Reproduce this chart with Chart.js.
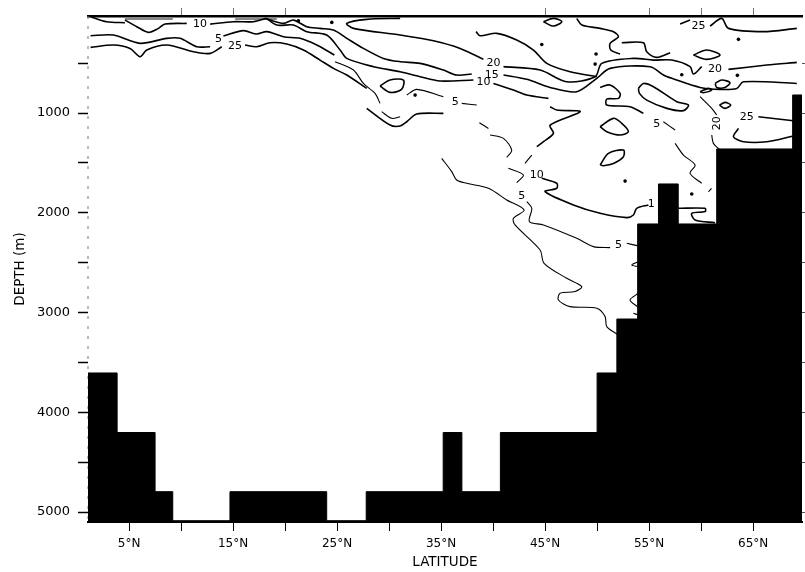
<!DOCTYPE html>
<html>
<head>
<meta charset="utf-8">
<style>
  html, body { margin: 0; padding: 0; background: #fff; }
  canvas { display: block; }
</style>
<script src="https://cdn.jsdelivr.net/npm/chart.js@4"></script>
</head>
<body>
<canvas id="chart" width="805" height="572"></canvas>
<script>
const latMin = 1.05;
const latMax = 69.7;
const depthMin = 27;
const depthMax = 5100;

const bottomTicks = [5, 10, 15, 20, 25, 30, 35, 40, 45, 50, 55, 60, 65];
const bottomTickLabels = { 5: "5°N", 15: "15°N", 25: "25°N", 35: "35°N", 45: "45°N", 55: "55°N", 65: "65°N" };
const depthTicks = [500, 1000, 1500, 2000, 2500, 3000, 3500, 4000, 4500, 5000];
const depthTickLabels = { 1000: "1000", 2000: "2000", 3000: "3000", 4000: "4000", 5000: "5000" };
const topTickLats = [10, 15, 20, 45, 55, 60, 65];

// sea floor steps: left edge of each cell and its depth
const floorLat = [1.05, 3.85, 7.5, 9.2, 14.7, 24, 27.8, 35.2, 37, 40.7, 50, 51.9, 53.9, 55.9, 57.8, 61.5, 68.8, 69.7];
const floorDepth = [3606, 4203, 4796, 5087, 4796, 5087, 4796, 4203, 4796, 4203, 3606, 3065, 2112, 1711, 2112, 1360, 819, 819];

// contours as [latitude, depth]
const surfA = [[1.3,34],[2.85,84],[4.6,94]];
const surfB = [[4.6,68],[5.74,134],[6.86,191],[7.82,151],[8.46,108],[10.54,101]];
const surfC = [[12.8,108],[15.03,84],[16.95,84],[18.2,51]];
const upperA = [[18.2,51],[18.56,68],[19.84,101],[20.8,68],[22.08,134],[23.36,151],[24.65,168],[25.93,251],[27.53,352],[29.45,452],[31.06,485],[32.98,502],[35.22,569],[36.5,619],[37.95,609]];
const upperB = [[18.2,51],[19.2,118],[20.8,118],[22.08,184],[24,218],[25.29,368],[25.93,452],[28.49,535],[31.06,586],[32.98,636],[34.9,679],[38.11,669]];
const fiveA = [[1.3,225],[3.49,218],[6.06,301],[8.62,251],[9.9,251],[11.5,335],[12.79,335]];
const fiveB = [[14.07,228],[16,174],[17.27,208],[18.24,184],[19.84,235],[21.44,251],[23.04,318],[24.74,418]];
const fiveC = [[24.8,485],[26.57,569],[27.53,703],[28.65,803],[29.13,903]];
const lowA = [[1.3,342],[3.49,318],[5.09,352],[6.06,435],[6.7,368],[8.62,318],[11.18,385],[12.79,402],[13.91,335]];
const lowB = [[16.15,318],[17.27,335],[18.56,295],[20.16,308],[21.76,368],[23.36,469],[24.65,552],[25.93,619],[27.85,753]];
const lowC = [[27.85,953],[30.09,1120],[31.06,1130],[31.7,1087],[32.66,1010],[35.22,1003]];
const lowD = [[29.29,986],[30.25,1053],[31.06,1037]];
const midA = [[31.7,819],[32.66,763],[35.22,836]];
const midB = [[36.99,903],[38.43,920]];
const twentyTop = [[31.06,51],[27.85,61],[25.93,101],[26.57,151],[31.06,218],[34.26,275],[36.83,352],[39.07,462]];
const twentyA = [[41,535],[44.52,569],[47.08,686],[49.81,636],[50.45,502],[53.49,452],[55.42,469],[57.18,469],[58.94,535],[59.26,609],[60.06,535]];
const twentyB = [[62.63,562],[66.31,519],[69.2,492]];
const twentyC = [[38.36,184],[38.75,225],[40.35,201],[42.27,268],[43.88,368],[45.16,502],[47.4,586],[49.97,636]];
const fifteenA = [[41,619],[43.24,662],[45.48,743],[48.04,786],[49.97,652],[51.25,552],[55.1,535],[56.38,619],[57.18,652],[59.9,743],[61.82,763],[63.43,753],[64.07,686],[69.2,703]];
const tenA = [[40.03,703],[41.95,769],[43.24,819],[45.32,853]];
const tenB = [[45.48,936],[46.12,970],[48.37,986],[45.48,1120],[45.8,1204],[44.84,1287],[44.2,1337]];
const tenC = [[43.72,1421],[43.07,1504]];
const tenD = [[41.47,1554],[42.91,1621],[42.27,1698]];
const tenE = [[44.68,1654],[46.12,1704],[46.12,1754],[45,1788],[47.72,1921],[50.29,2005],[52.85,2048],[53.49,2022],[53.81,1955],[54.93,1921]];
const tenF = [[57.82,1955],[60.38,1955],[60.38,1988],[59.1,2005],[59.42,2072],[61.34,2099]];
const wiggleA = [[48.04,51],[48.53,118],[50.29,151],[51.57,184],[52.05,235],[51.25,301],[51.31,368],[52.21,408]];
const wiggleB = [[52.37,295],[54.45,295],[54.77,385],[55.74,442],[57.02,395]];
const wiggleC = [[50.29,743],[51.25,719],[52.21,803],[52.05,853],[50.93,860],[50.93,920],[53.17,936],[54.45,1003]];
const wiggleD = [[56.37,1087],[57.5,1170]];
const wiggleE = [[57.5,1304],[58.3,1421],[59.42,1521],[58.94,1605],[60.06,1705]];
const wiggleF = [[60.7,1789],[61,1755]];
const topRightA = [[57.98,108],[58.94,68]];
const topRightB = [[60.86,128],[61.98,51],[62.63,151],[65.99,184],[69.2,151]];
const rightA = [[59.9,836],[61.02,953],[61.5,1020]];
const rightB = [[61.02,1220],[61.18,1304],[61.76,1364]];
const rightC = [[65.5,1037],[68.87,1077]];
const rightD = [[63.59,1154],[63.11,1237],[64.07,1287],[66.31,1287],[68.87,1230]];
const deepA = [[38.68,1097],[39.55,1154]];
const deepB = [[39.71,1220],[40.99,1254],[41.79,1371],[41.31,1444]];
const deepC = [[35.06,1454],[36.02,1587],[36.5,1671],[37.47,1704],[39.55,1754],[41.31,1871],[42.98,1972],[41.95,2055],[42.11,2122],[44.52,2373],[44.9,2506],[47.08,2657],[48.52,2740],[47.88,2790],[46.44,2807],[46.28,2874],[47.4,2941],[49.97,2957],[50.77,3041],[50.93,3141],[52.05,3225]];
const deepD = [[43.24,1888],[43.72,1955],[43.49,2088],[44.84,2122],[48.04,2256],[49.65,2339],[51.25,2349]];
const deepE = [[52.85,2306],[53.97,2332]];
const stubA = [[53.97,2490],[53.33,2523],[53.97,2540]];
const stubB = [[53.97,2807],[53.17,2874],[53.87,2941]];
const stubC = [[53.49,3008],[53.97,3024]];
const loopA = [[29.13,729],[30.09,669],[31.38,669],[31.2,763],[30.09,793],[29.13,729]];
const loopB = [[44.84,84],[45.8,51],[46.6,84],[45.8,128],[44.84,84]];
const loopC = [[59.26,418],[60.54,368],[61.82,418],[60.54,462],[59.26,418]];
const loopD = [[61.35,703],[61.99,669],[62.78,696],[62.3,743],[61.5,743],[61.35,703]];
const loopE = [[59.9,786],[60.7,753],[61.02,769],[60.22,796],[59.9,786]];
const loopF = [[61.76,920],[62.3,893],[62.85,920],[62.3,953],[61.76,920]];
const loopG = [[53.97,753],[54.45,703],[55.42,736],[57.66,886],[58.78,920],[58.3,976],[56.7,953],[54.77,870],[54.07,803],[53.97,753]];
const loopH = [[50.29,1137],[51.57,1053],[52.37,1103],[53.01,1187],[52.21,1220],[50.93,1187],[50.29,1137]];
const loopI = [[50.29,1521],[51.09,1404],[52.53,1371],[52.53,1438],[51.57,1505],[50.61,1528],[50.29,1521]];

// the heavier lines in the upper water and the thin ones below
const heavyContours = [surfA, surfB, surfC, upperA, upperB, fiveA, fiveB, lowA, lowB, lowC,
  twentyTop, twentyA, twentyB, twentyC, fifteenA, tenA, tenB, tenE, tenF,
  wiggleA, wiggleB, wiggleC, topRightA, topRightB, rightC, rightD,
  loopA, loopB, loopC, loopD, loopE, loopF, loopG, loopH, loopI];
const thinContours = [fiveC, lowD, midA, midB, tenC, tenD, wiggleD, wiggleE, wiggleF, rightA, rightB,
  deepA, deepB, deepC, deepD, deepE, stubA, stubB, stubC];

// grey smudges just under the surface line
const surfaceSmudges = [[[4.6,52],[9.2,52]], [[15.2,52],[19.2,52]]];

const spots = [[44.68,312],[49.9,408],[49.81,509],[63.59,261],[58.14,616],[63.49,622],[52.69,1682],[59.1,1812],[32.5,820],[21.28,74],[24.49,91]];

// contour labels: text, latitude, depth, rotation
const contourLabels = [
  ["10", 11.83, 108, 0], ["5", 13.59, 261, 0], ["25", 15.19, 328, 0],
  ["20", 40.03, 502, 0], ["15", 39.87, 619, 0], ["10", 39.07, 692, 0],
  ["5", 36.35, 886, 0], ["5", 55.73, 1110, 0], ["25", 59.74, 128, 0],
  ["20", 61.34, 559, 0], ["25", 64.39, 1043, 0], ["20", 61.5, 1103, -90],
  ["10", 44.2, 1621, 0], ["5", 42.75, 1838, 0], ["5", 52.05, 2322, 0], ["1", 55.2, 1915, 0],
];

const toPoints = (pairs) => pairs.map(([x, y]) => ({ x, y }));

const floorPoints = floorLat.map((x, i) => ({ x, y: floorDepth[i] }));

const contourSet = (pairs, width) => ({
  data: toPoints(pairs),
  borderColor: "#000",
  borderWidth: width,
  pointRadius: 0,
  tension: 0.3,
  fill: false,
  order: 2,
});

const datasets = [
  {
    data: floorPoints,
    stepped: "before",
    borderColor: "#000",
    backgroundColor: "#000",
    borderWidth: 1,
    pointRadius: 0,
    fill: { value: depthMax },
    order: 3,
  },
  ...heavyContours.map((pairs) => contourSet(pairs, 1.6)),
  ...thinContours.map((pairs) => contourSet(pairs, 1.1)),
  ...surfaceSmudges.map((pairs) => ({
    data: toPoints(pairs),
    borderColor: "#888",
    borderWidth: 3,
    pointRadius: 0,
    order: 4,
  })),
  {
    // left edge of the frame, broken like the scanned original
    data: [{ x: latMin, y: depthMin }, { x: latMin, y: depthMax }],
    borderColor: "#777",
    borderWidth: 1,
    borderDash: [3, 7],
    pointRadius: 0,
    clip: false,
    order: 4,
  },
  {
    data: toPoints(spots),
    showLine: false,
    pointRadius: 1.8,
    pointBackgroundColor: "#000",
    pointBorderWidth: 0,
    order: 1,
  },
];

const labelPlugin = {
  id: "contourText",
  afterDatasetsDraw(chart) {
    const { ctx, scales } = chart;
    ctx.save();
    ctx.fillStyle = "#000";
    ctx.font = '11px "DejaVu Sans"';
    ctx.textAlign = "center";
    ctx.textBaseline = "middle";
    contourLabels.forEach(([text, lat, depth, rot]) => {
      ctx.save();
      ctx.translate(scales.x.getPixelForValue(lat), scales.y.getPixelForValue(depth));
      ctx.rotate((rot * Math.PI) / 180);
      ctx.fillText(text, 0, 0);
      ctx.restore();
    });
    ctx.restore();
  },
};

const bottomFont = { family: "DejaVu Sans", size: 12 };
const depthFont = { family: "DejaVu Sans", size: 13 };
const titleFont = { family: "DejaVu Sans", size: 13.5 };

new Chart(document.getElementById("chart").getContext("2d"), {
  type: "line",
  data: { datasets },
  plugins: [labelPlugin],
  options: {
    responsive: false,
    animation: false,
    layout: { padding: 0, autoPadding: false },
    plugins: { legend: { display: false }, tooltip: { enabled: false } },
    scales: {
      x: {
        type: "linear",
        position: "bottom",
        min: latMin,
        max: latMax,
        afterFit(scale) { scale.height = 50; },
        afterBuildTicks(scale) { scale.ticks = bottomTicks.map((value) => ({ value })); },
        border: { color: "#000", width: 2 },
        grid: { drawOnChartArea: false, tickLength: 9, tickColor: "#000", tickWidth: 1 },
        ticks: {
          autoSkip: false,
          maxRotation: 0,
          padding: 6,
          color: "#000",
          font: bottomFont,
          callback: (v) => bottomTickLabels[v] || "",
        },
        title: { display: true, text: "LATITUDE", color: "#000", font: titleFont, padding: { top: 0, bottom: 1 } },
      },
      xTop: {
        type: "linear",
        position: "top",
        min: latMin,
        max: latMax,
        afterFit(scale) { scale.height = 16; },
        afterBuildTicks(scale) { scale.ticks = topTickLats.map((value) => ({ value })); },
        border: { color: "#000", width: 2.5 },
        grid: { drawOnChartArea: false, tickLength: 8, tickColor: "#777", tickWidth: 1 },
        ticks: { display: false },
      },
      y: {
        type: "linear",
        position: "left",
        reverse: true,
        min: depthMin,
        max: depthMax,
        afterFit(scale) { scale.width = 88; },
        afterBuildTicks(scale) { scale.ticks = depthTicks.map((value) => ({ value })); },
        border: { display: false },
        grid: { drawOnChartArea: false, tickLength: 10, tickColor: "#000", tickWidth: 1.5 },
        ticks: {
          autoSkip: false,
          padding: 8,
          color: "#000",
          font: depthFont,
          callback: (v) => depthTickLabels[v] || "",
        },
        title: { display: true, text: "DEPTH (m)", color: "#000", font: titleFont, padding: { top: 12, bottom: 0 } },
      },
      yRight: {
        type: "linear",
        position: "right",
        reverse: true,
        min: depthMin,
        max: depthMax,
        afterFit(scale) { scale.width = 3; },
        afterBuildTicks(scale) { scale.ticks = depthTicks.map((value) => ({ value })); },
        border: { display: false },
        grid: { drawOnChartArea: false, tickLength: 3, tickColor: "#555", tickWidth: 1 },
        ticks: { display: false },
      },
    },
  },
});
</script>
</body>
</html>
